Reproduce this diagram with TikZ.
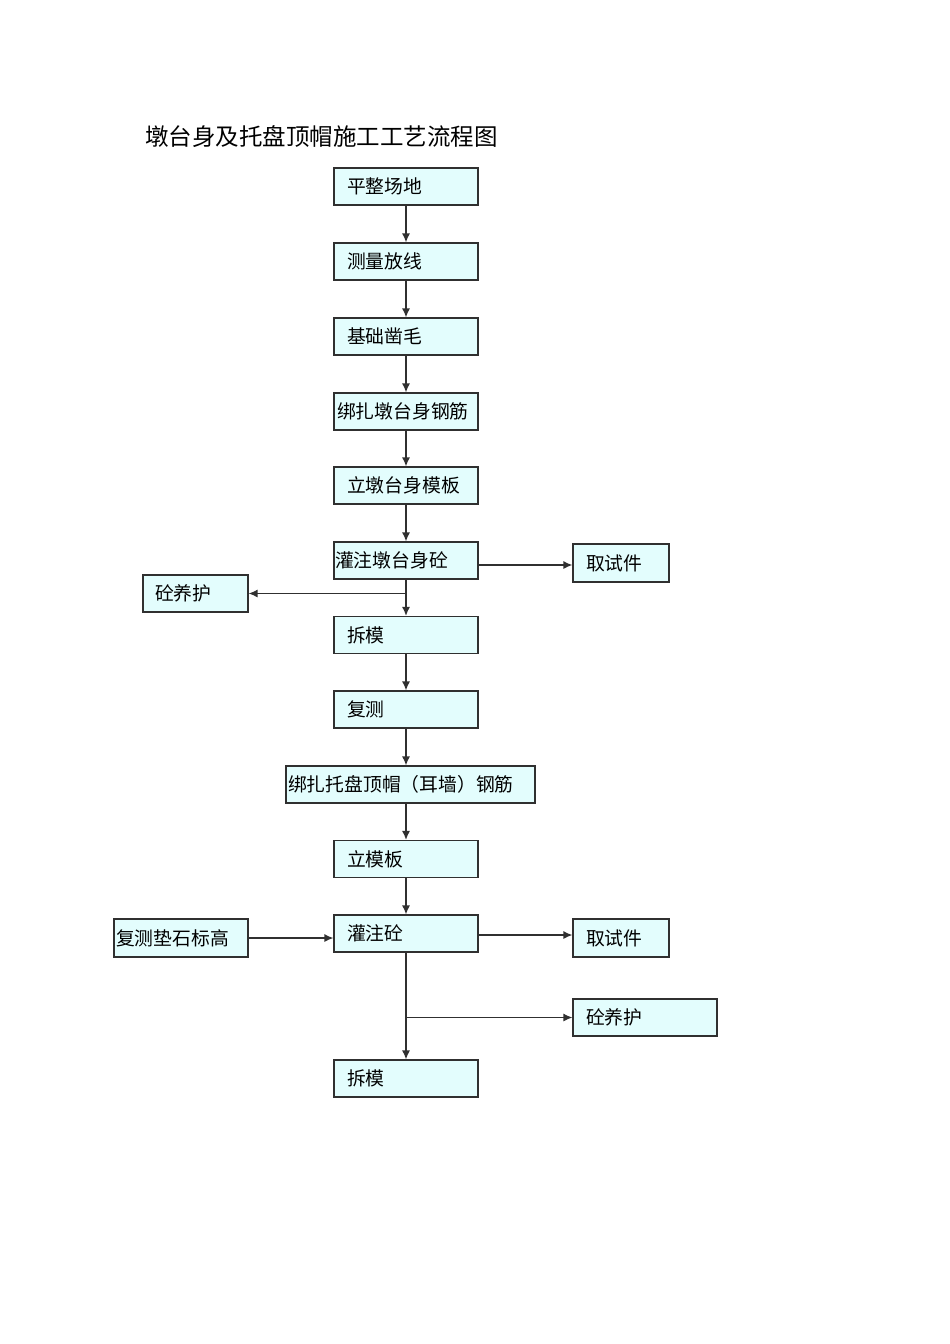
\documentclass[tikz,border=0pt]{standalone}
\usepackage{fontspec}
\setmainfont{Noto Sans CJK SC}
\usetikzlibrary{arrows.meta}
\definecolor{boxfill}{HTML}{E3FDFD}
\definecolor{linec}{HTML}{303030}
\tikzset{
  box/.style={draw=linec, line width=1.2pt, fill=boxfill, minimum height=37pt, inner ysep=0pt, align=left, font=\fontsize{18.8}{21}\selectfont},
  arr/.style={draw=linec, line width=1.3pt, -{Latex[length=9pt,width=8pt]}},
  ln/.style={draw=linec, line width=1.3pt}
}
\begin{document}
\begin{tikzpicture}[x=1pt,y=-1pt]
\useasboundingbox (0,0) rectangle (950,1344);
\node[anchor=base west, font=\fontsize{23.5}{26}\selectfont, inner sep=0pt] (title) at (145,145) {墩台身及托盘顶帽施工工艺流程图};
% main column
\node[box, inner xsep=13pt, text width=118pt] (a1) at (406,186.5) {平整场地};
\node[box, inner xsep=13pt, text width=118pt] (a2) at (406,261.5) {测量放线};
\node[box, inner xsep=13pt, text width=118pt] (a3) at (406,336.5) {基础凿毛};
\node[box, inner xsep=3pt, text width=138pt] (a4) at (406,411.5) {绑扎墩台身钢筋};
\node[box, inner xsep=13pt, text width=118pt] (a5) at (406,485.5) {立墩台身模板};
\node[box, inner xsep=1pt, text width=142pt] (a6) at (406,560.5) {灌注墩台身砼};
\node[box, inner xsep=13pt, text width=118pt] (a7) at (406,635) {拆模};
\node[box, inner xsep=13pt, text width=118pt] (a8) at (406,709.5) {复测};
\node[box, inner xsep=2pt, text width=245pt] (a9) at (410.5,784.5) {绑扎托盘顶帽（耳墙）钢筋};
\node[box, inner xsep=13pt, text width=118pt] (a10) at (406,859) {立模板};
\node[box, inner xsep=13pt, text width=118pt] (a11) at (406,933.5) {灌注砼};
\node[box, inner xsep=13pt, text width=118pt] (a12) at (406,1078.5) {拆模};
% side boxes
\node[box, inner xsep=13pt, text width=70pt, minimum height=38pt] (c1) at (621,563) {取试件};
\node[box, inner xsep=12pt, text width=81pt] (b1) at (195.5,593.5) {砼养护};
\node[box, inner xsep=2pt, text width=130pt, minimum height=38pt] (d1) at (181,938) {复测垫石标高};
\node[box, inner xsep=13pt, text width=70pt, minimum height=38pt] (c2) at (621,938) {取试件};
\node[box, inner xsep=13pt, text width=118pt] (c3) at (645,1017.5) {砼养护};
% connectors
\draw[arr] (a1) -- (a2);
\draw[arr] (a2) -- (a3);
\draw[arr] (a3) -- (a4);
\draw[arr] (a4) -- (a5);
\draw[arr] (a5) -- (a6);
\draw[arr] (a6) -- (a7);
\coordinate (j1) at (a6.south |- b1.east);
\draw[arr] (j1) -- (b1.east);
\draw[arr] ([yshift=-4.5pt]a6.east) -- ([yshift=-4.5pt]a6.east -| c1.west);
\draw[arr] (a7) -- (a8);
\draw[arr] (a8.south) -- (a8.south |- a9.north);
\draw[arr] (a8.south |- a9.south) -- (a10.north);
\draw[arr] (a10) -- (a11);
\draw[arr] (d1.east) -- (d1.east -| a11.west);
\draw[arr] ([yshift=-1.5pt]a11.east) -- ([yshift=-1.5pt]a11.east -| c2.west);
\draw[arr] (a11) -- (a12);
\coordinate (j2) at (a11.south |- c3.west);
\draw[arr] (j2) -- (c3.west);
\end{tikzpicture}
\end{document}
